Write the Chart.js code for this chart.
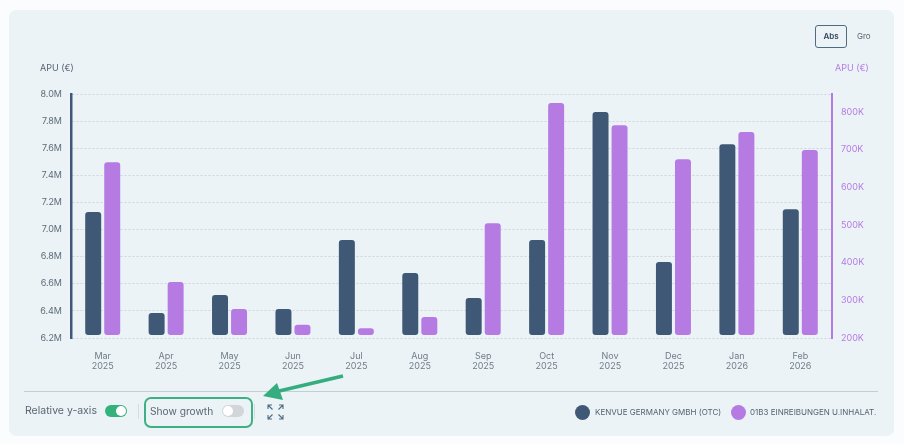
<!DOCTYPE html>
<html>
<head>
<meta charset="utf-8">
<title>APU</title>
<script src="https://cdn.jsdelivr.net/npm/chart.js@4"></script>
<style>
  html, body { margin: 0; padding: 0; background: #fbfcfd; }
  body { width: 904px; height: 444px; position: relative; overflow: hidden; font-family: "Inter", sans-serif; color: #55636f; }
  .panel { position: absolute; left: 9px; top: 10px; width: 885px; height: 426px; background: #ecf3f7; border-radius: 7px; }
  canvas { position: absolute; left: 0; top: 0; }
  .abs { position: absolute; white-space: nowrap; }
  .eje { font-size: 9px; line-height: 12px; top: 62px; }
  .btn-abs { left: 815px; top: 25px; width: 30px; height: 21px; border: 1px solid #4f6b80; border-radius: 3px; font-size: 8px; font-weight: 600; line-height: 21px; text-align: center; color: #2f4558; }
  .btn-gro { left: 857px; top: 25px; font-size: 8px; line-height: 23px; color: #55636f; }
  .divisor { left: 24px; top: 391px; width: 854px; height: 1px; background: #c3ced4; }
  .sep { top: 404px; width: 1px; height: 15px; background: #d3dce1; }
  .ctrl { font-size: 10.5px; line-height: 14px; top: 404px; color: #5a6772; }
  .toggle { top: 405px; width: 22px; height: 12px; border-radius: 6px; }
  .toggle i { position: absolute; top: 1px; width: 10px; height: 10px; border-radius: 50%; background: #fff; }
  .marco { left: 144px; top: 397px; width: 105px; height: 27px; border: 2px solid #3fb083; border-radius: 7px; }
  .leyenda { font-size: 8px; line-height: 12px; top: 406px; color: #55636f; }
  .punto { top: 405px; width: 15px; height: 15px; border-radius: 50%; }
</style>
</head>
<body>
<div class="panel"></div>
<canvas id="apuChart" width="904" height="444"></canvas>

<div class="abs btn-abs">Abs</div>
<div class="abs btn-gro">Gro</div>
<div class="abs eje" id="tituloIzq" style="left:40px"></div>
<div class="abs eje" id="tituloDer" style="left:835px;color:#b57be3"></div>

<div class="abs divisor"></div>
<div class="abs ctrl" style="left:25px">Relative y-axis</div>
<div class="abs toggle" style="left:105px;background:#33b27b"><i style="left:11px"></i></div>
<div class="abs sep" style="left:138px"></div>
<div class="abs marco"></div>
<div class="abs ctrl" style="left:150px;font-size:10.2px">Show growth</div>
<div class="abs toggle" style="left:222px;background:#d2d6d9"><i style="left:1px"></i></div>
<div class="abs sep" style="left:254px"></div>

<!-- icono de pantalla completa -->
<svg class="abs" style="left:267px;top:404px" width="17" height="16" viewBox="0 0 17 16" fill="none" stroke="#4f6b80" stroke-width="1.1">
  <path d="M1 5V1H5M1 1L5.5 5.5M12 1H16V5M16 1L11.5 5.5M1 11V15H5M1 15L5.5 10.5M12 15H16V11M16 15L11.5 10.5"/>
</svg>

<!-- flecha verde hacia el interruptor -->
<svg class="abs" style="left:255px;top:368px" width="95" height="36" viewBox="0 0 95 36">
  <path d="M88 8L22 23.5" stroke="#35ad7f" stroke-width="3.5" fill="none"/>
  <path d="M8 28L22 15L28 32Z" fill="#35ad7f"/>
</svg>

<div class="abs punto" style="left:575px;background:#3f5876"></div>
<div class="abs leyenda" id="leyendaA" style="left:595px"></div>
<div class="abs punto" style="left:731px;background:#b57be3"></div>
<div class="abs leyenda" id="leyendaB" style="left:750px"></div>

<script>
// Datos de APU por mes
const meses = [['Mar', '2025'], ['Apr', '2025'], ['May', '2025'], ['Jun', '2025'], ['Jul', '2025'], ['Aug', '2025'],
               ['Sep', '2025'], ['Oct', '2025'], ['Nov', '2025'], ['Dec', '2025'], ['Jan', '2026'], ['Feb', '2026']];
const ventasKenvue = [7130000, 6385000, 6517000, 6414000, 6923000, 6680000, 6495000, 6923000, 7867000, 6760000, 7630000, 7150000];
const ventasEinreibungen = [667000, 349000, 277000, 235000, 226000, 256000, 505000, 824000, 765000, 675000, 747000, 699000];
const ticksDerecha = [200000, 300000, 400000, 500000, 600000, 700000, 800000];
const nombreKenvue = 'KENVUE GERMANY GMBH (OTC)';
const nombreEinreibungen = '01B3 EINREIBUNGEN U.INHALAT.';
const tituloEje = 'APU (€)';

const colorKenvue = '#3f5876';
const colorEinreibungen = '#b57be3';
const colorTexto = '#5d6b78';
const fuente = { family: 'Inter', size: 9 };

document.getElementById('tituloIzq').textContent = tituloEje;
document.getElementById('tituloDer').textContent = tituloEje;
document.getElementById('leyendaA').textContent = nombreKenvue;
document.getElementById('leyendaB').textContent = nombreEinreibungen;

new Chart(document.getElementById('apuChart'), {
    type: 'bar',
    data: {
        labels: meses,
        datasets: [{
            label: nombreKenvue,
            data: ventasKenvue,
            yAxisID: 'y',
            base: 6222000,
            backgroundColor: colorKenvue
        }, {
            label: nombreEinreibungen,
            data: ventasEinreibungen,
            yAxisID: 'y1',
            base: 208000,
            backgroundColor: colorEinreibungen
        }]
    },
    options: {
        responsive: false,
        animation: false,
        categoryPercentage: 0.6,
        barPercentage: 0.84,
        borderRadius: 3,
        borderSkipped: false,
        layout: { padding: { top: 94, left: 0, right: 0, bottom: 0 } },
        plugins: { legend: { display: false }, tooltip: { enabled: false } },
        scales: {
            x: {
                grid: { display: false, drawTicks: false },
                border: { display: false },
                ticks: {
                    color: '#6f7c86',
                    font: { family: 'Inter', size: 9, lineHeight: 1.1 },
                    padding: 13,
                    maxRotation: 0
                },
                afterFit: scale => { scale.height = 106; }
            },
            y: {
                position: 'left',
                min: 6200000,
                max: 8000000,
                grid: { color: '#ccd5db', lineWidth: 1, drawTicks: false },
                border: { color: colorKenvue, width: 2.5, dash: [2, 2] },
                ticks: {
                    stepSize: 200000,
                    color: colorTexto,
                    font: fuente,
                    padding: 9,
                    callback: v => (v / 1000000).toFixed(1) + 'M'
                },
                afterFit: scale => { scale.width = 71; }
            },
            y1: {
                position: 'right',
                min: 200000,
                max: 848000,
                grid: { display: false, drawTicks: false },
                border: { color: colorEinreibungen, width: 2 },
                // el tope del eje no cae en un múltiplo de 100K
                afterBuildTicks: scale => { scale.ticks = ticksDerecha.map(value => ({ value })); },
                ticks: {
                    color: colorEinreibungen,
                    font: fuente,
                    padding: 9,
                    callback: v => (v / 1000) + 'K'
                },
                afterFit: scale => { scale.width = 72; }
            }
        }
    }
});
</script>
</body>
</html>
